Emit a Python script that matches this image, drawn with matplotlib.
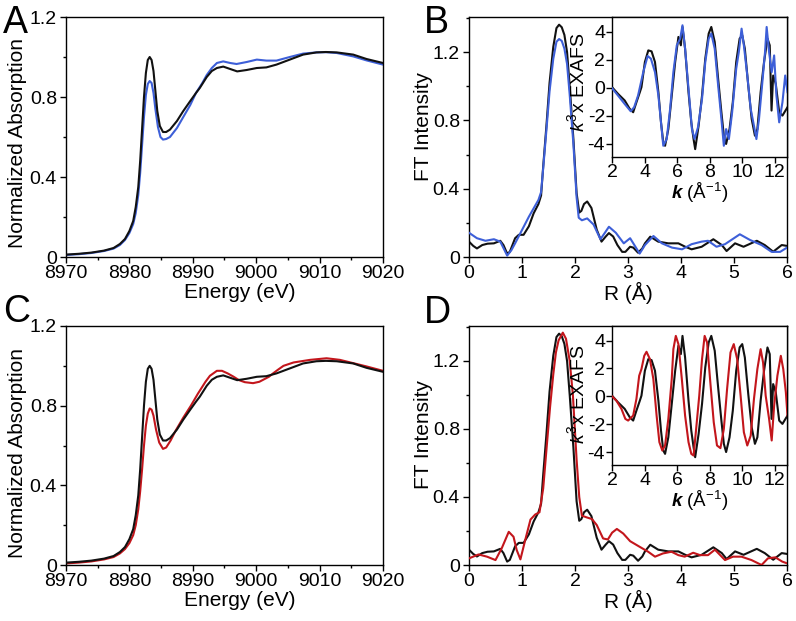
import matplotlib
matplotlib.use('Agg')
import matplotlib.pyplot as plt
from matplotlib.ticker import MultipleLocator, FuncFormatter, FixedLocator

# ---------------- data ----------------
# XANES (panels A, C)
xanes_black_E = [8970, 8972, 8974, 8976, 8977.5, 8978.5, 8979.3, 8980, 8980.6, 8981, 8981.4, 8981.7,
                 8982, 8982.3, 8982.6, 8982.9, 8983.2, 8983.5, 8983.8, 8984.1, 8984.4, 8984.8, 8985.3,
                 8985.8, 8986.4, 8987.5, 8988.5, 8989.6, 8990.5, 8991.1, 8992.2, 8993, 8993.8, 8994.8,
                 8995.9, 8997, 8998.5, 9000.1, 9001.6, 9003.2, 9005.3, 9007.4, 9009.5, 9011, 9012.7,
                 9015.3, 9017.4, 9020]
xanes_black_mu = [0.012, 0.016, 0.022, 0.032, 0.045, 0.065, 0.09, 0.13, 0.18, 0.25, 0.35, 0.48,
                  0.64, 0.80, 0.92, 0.985, 1.0, 0.985, 0.93, 0.83, 0.73, 0.655, 0.625,
                  0.625, 0.637, 0.68, 0.73, 0.78, 0.82, 0.845, 0.90, 0.93, 0.945, 0.952,
                  0.94, 0.928, 0.935, 0.945, 0.948, 0.962, 0.987, 1.012, 1.023, 1.025, 1.023,
                  1.012, 0.99, 0.97]

xanes_blue_E = [8970, 8972, 8974, 8976, 8977.5, 8978.5, 8979.3, 8980, 8980.6, 8981, 8981.4, 8981.7,
                8982, 8982.3, 8982.6, 8982.9, 8983.2, 8983.5, 8983.8, 8984.1, 8984.5, 8984.9, 8985.3,
                8985.8, 8986.4, 8987.5, 8988.5, 8989.6, 8990.5, 8991.5, 8992.2, 8993, 8993.8, 8994.8,
                8995.9, 8996.9, 8998.5, 9000.1, 9001.6, 9003.2, 9005.3, 9007.4, 9009.5, 9011, 9012.7,
                9015.3, 9017.4, 9020]
xanes_blue_mu = [0.010, 0.014, 0.020, 0.030, 0.042, 0.060, 0.085, 0.12, 0.165, 0.22, 0.31, 0.42,
                 0.56, 0.70, 0.81, 0.865, 0.88, 0.87, 0.82, 0.74, 0.65, 0.60, 0.587,
                 0.59, 0.60, 0.645, 0.70, 0.76, 0.82, 0.87, 0.91, 0.945, 0.97, 0.978,
                 0.97, 0.965, 0.975, 0.987, 0.982, 0.982, 1.0, 1.017, 1.023, 1.024, 1.02,
                 1.003, 0.983, 0.962]

xanes_red_E = [8970, 8972, 8974, 8976, 8977.5, 8978.5, 8979.3, 8980, 8980.6, 8981, 8981.4, 8981.7,
               8982, 8982.3, 8982.6, 8982.9, 8983.2, 8983.5, 8983.8, 8984.2, 8984.7, 8985.3, 8985.8,
               8986.5, 8987.3, 8988.5, 8989.7, 8990.8, 8992, 8992.7, 8993.8, 8994.6, 8995.5, 8996.4,
               8997.3, 8998.2, 8999.5, 9000.5, 9001.1, 9002, 9002.7, 9003.5, 9004.3, 9005.9, 9008.5,
               9011.1, 9013.2, 9015.5, 9017.4, 9020]
xanes_red_mu = [0.008, 0.012, 0.018, 0.028, 0.04, 0.058, 0.08, 0.11, 0.15, 0.2, 0.28, 0.37,
                0.48, 0.6, 0.7, 0.76, 0.786, 0.78, 0.75, 0.68, 0.615, 0.583, 0.59,
                0.625, 0.675, 0.74, 0.8, 0.86, 0.92, 0.95, 0.975, 0.975, 0.962, 0.946,
                0.928, 0.918, 0.913, 0.92, 0.93, 0.945, 0.963, 0.982, 1.0, 1.017, 1.03,
                1.038, 1.03, 1.012, 0.997, 0.975]

# Fourier transforms (panels B, D)
ft_black_R = [0.0, 0.08, 0.15, 0.25, 0.35, 0.47, 0.59, 0.65, 0.72, 0.77, 0.87, 0.94, 1.03, 1.13,
              1.22, 1.31, 1.36, 1.40, 1.46, 1.52, 1.59, 1.65, 1.70, 1.75, 1.80, 1.85, 1.90, 1.97,
              2.03, 2.08, 2.12, 2.17, 2.23, 2.31, 2.41, 2.5, 2.58, 2.64, 2.72, 2.8, 2.89, 2.95,
              3.04, 3.1, 3.19, 3.27, 3.32, 3.42, 3.57, 3.76, 3.95, 4.08, 4.2, 4.39, 4.61, 4.77,
              4.86, 5.02, 5.18, 5.43, 5.58, 5.74, 5.9, 6.0]
ft_black_I = [0.09, 0.065, 0.05, 0.07, 0.078, 0.08, 0.095, 0.07, 0.02, 0.03, 0.11, 0.13, 0.13, 0.18,
              0.256, 0.31, 0.36, 0.53, 0.765, 1.02, 1.23, 1.34, 1.36, 1.345, 1.30, 1.20, 1.0, 0.69,
              0.375, 0.26, 0.27, 0.31, 0.325, 0.287, 0.16, 0.09, 0.12, 0.14, 0.12, 0.07, 0.03, 0.03,
              0.06, 0.055, 0.025, 0.05, 0.08, 0.119, 0.09, 0.08, 0.08, 0.06, 0.045, 0.06, 0.104, 0.07,
              0.035, 0.08, 0.06, 0.095, 0.07, 0.031, 0.07, 0.065]

ft_blue_R = [0.0, 0.15, 0.31, 0.47, 0.59, 0.67, 0.72, 0.8, 0.87, 1.0, 1.13, 1.22, 1.31, 1.36, 1.40,
             1.46, 1.52, 1.59, 1.65, 1.70, 1.75, 1.80, 1.85, 1.90, 1.97, 2.03, 2.07, 2.13, 2.23,
             2.35, 2.48, 2.56, 2.64, 2.77, 2.92, 3.04, 3.1, 3.22, 3.32, 3.48, 3.64, 3.83, 4.02,
             4.2, 4.39, 4.51, 4.67, 4.83, 5.11, 5.3, 5.52, 5.71, 5.87, 6.0]
ft_blue_I = [0.142, 0.11, 0.095, 0.104, 0.09, 0.04, 0.008, 0.04, 0.08, 0.158, 0.236, 0.285, 0.334, 0.38, 0.52,
             0.74, 0.97, 1.16, 1.26, 1.276, 1.265, 1.22, 1.13, 0.95, 0.66, 0.35, 0.23, 0.215, 0.226,
             0.19, 0.104, 0.14, 0.177, 0.142, 0.08, 0.11, 0.08, 0.02, 0.07, 0.123, 0.08, 0.055, 0.045,
             0.075, 0.09, 0.095, 0.06, 0.075, 0.133, 0.1, 0.07, 0.03, 0.03, 0.055]

ft_red_R = [0.0, 0.18, 0.34, 0.5, 0.62, 0.75, 0.84, 0.9, 0.97, 1.06, 1.16, 1.25, 1.33, 1.40, 1.47,
            1.53, 1.59, 1.64, 1.69, 1.77, 1.83, 1.90, 1.96, 2.03, 2.08, 2.13, 2.22, 2.32, 2.41,
            2.53, 2.62, 2.70, 2.79, 2.91, 3.04, 3.22, 3.38, 3.51, 3.66, 3.82, 3.95, 4.07, 4.23,
            4.36, 4.51, 4.64, 4.83, 4.98, 5.14, 5.33, 5.52, 5.64, 5.78, 5.91, 6.0]
ft_red_I = [0.039, 0.062, 0.049, 0.029, 0.1, 0.195, 0.166, 0.088, 0.033, 0.146, 0.267, 0.297, 0.31, 0.45, 0.71,
            0.93, 1.12, 1.25, 1.32, 1.366, 1.33, 1.2, 1.0, 0.62, 0.4, 0.29, 0.28, 0.27, 0.235,
            0.156, 0.15, 0.19, 0.212, 0.185, 0.14, 0.107, 0.078, 0.049, 0.068, 0.078, 0.058, 0.049, 0.072,
            0.058, 0.058, 0.09, 0.029, 0.049, 0.049, 0.029, 0.0, 0.039, 0.045, 0.02, 0.01]

# k^3-weighted EXAFS (insets)
exafs_black_k = [2.0, 2.37, 2.78, 3.09, 3.3, 3.5, 3.71, 3.81, 4.02, 4.23, 4.43, 4.64, 4.85, 5.01, 5.15,
                 5.26, 5.46, 5.67, 5.88, 6.08, 6.23, 6.33, 6.49, 6.7, 6.87, 7.01, 7.11, 7.32, 7.53,
                 7.73, 7.94, 8.1, 8.31, 8.52, 8.72, 8.87, 9.01, 9.22, 9.42, 9.63, 9.84, 10.0, 10.16,
                 10.37, 10.58, 10.78, 10.93, 11.13, 11.34, 11.55, 11.69, 11.8, 11.9, 12.06, 12.27,
                 12.47, 12.78]
exafs_black_chi = [0.05, -0.43, -0.9, -1.5, -1.74, -1.03, -0.31, 0.05, 1.84, 2.67, 2.6, 1.84, -0.31, -2.46, -3.89,
                   -4.13, -2.94, -0.55, 1.84, 3.63, 3.03, 4.34, 2.79, -0.31, -2.46, -3.65, -4.37, -2.7, -0.55,
                   2.08, 3.87, 4.34, 3.27, 0.64, -1.74, -3.41, -4.0, -2.94, -1.03, 1.84, 3.51, 3.75, 2.79,
                   0.17, -2.22, -3.41, -2.94, -0.31, 1.84, 3.51, 3.03, -1.62, 0.88, 0.29, -1.74,
                   -1.98, -1.38]

exafs_blue_k = [2.0, 2.37, 2.78, 3.15, 3.36, 3.6, 3.92, 4.19, 4.39, 4.64, 4.85, 5.01, 5.15, 5.36, 5.57,
                5.77, 5.98, 6.19, 6.33, 6.49, 6.7, 6.91, 7.07, 7.28, 7.53, 7.73, 7.94, 8.1, 8.31,
                8.52, 8.72, 8.87, 9.01, 9.18, 9.38, 9.63, 9.79, 9.96, 10.1, 10.31, 10.52, 10.72,
                10.87, 11.03, 11.2, 11.4, 11.5, 11.65, 11.81, 11.96, 12.1, 12.27, 12.47, 12.64, 12.78]
exafs_blue_chi = [-0.02, -0.55, -1.15, -1.67, -1.38, -0.55, 1.12, 2.27, 2.08, 1.12, -0.55, -2.46, -4.13, -3.65, -1.5,
                  1.12, 3.03, 3.51, 4.46, 2.79, -0.07, -2.94, -3.65, -2.82, -0.79, 1.84, 3.51, 3.87, 2.79,
                  0.17, -2.22, -4.13, -2.94, -3.65, -1.74, 1.36, 2.55, 4.22, 3.03, 0.88, -1.5, -2.7,
                  -3.65, -2.22, -0.07, 2.55, 4.34, 2.55, 1.12, 2.31, -0.55, -2.46, -1.03, 0.88, -0.31]

exafs_red_k = [2.0, 2.27, 2.58, 2.82, 2.99, 3.3, 3.5, 3.67, 3.81, 3.98, 4.12, 4.33, 4.54, 4.74, 4.91,
               5.09, 5.26, 5.46, 5.67, 5.77, 5.92, 6.08, 6.29, 6.49, 6.7, 6.87, 7.01, 7.15, 7.36,
               7.53, 7.69, 7.84, 8.04, 8.25, 8.45, 8.66, 8.87, 9.07, 9.28, 9.48, 9.69, 9.9, 10.1,
               10.31, 10.52, 10.72, 10.93, 11.13, 11.28, 11.44, 11.65, 11.81, 11.96, 12.16, 12.37,
               12.52, 12.68, 12.78]
exafs_red_chi = [0.0, -0.31, -0.9, -1.62, -1.74, -1.38, -0.19, 1.48, 1.96, 2.91, 3.2, 2.67, 1.24, -1.38, -3.29,
                 -3.89, -3.53, -1.62, 1.24, 3.39, 4.34, 3.75, 1.24, -1.38, -3.29, -4.13, -4.25, -2.58, 0.05,
                 2.67, 4.34, 3.87, 1.0, -1.86, -3.53, -3.72, -2.34, 0.53, 3.15, 3.75, 2.67, 0.05, -2.58,
                 -3.53, -2.82, -0.19, 1.96, 3.39, 2.43, 0.05, -1.62, -3.17, -0.67, 1.48, 2.91,
                 1.96, 0.29, -1.38]

# ---------------- style ----------------
plt.rcParams['font.family'] = ['Liberation Sans', 'DejaVu Sans']
plt.rcParams['axes.unicode_minus'] = False
plt.rcParams['mathtext.fontset'] = 'custom'
plt.rcParams['mathtext.rm'] = 'Liberation Sans'
plt.rcParams['mathtext.it'] = 'Liberation Sans:italic'
plt.rcParams['mathtext.bf'] = 'Liberation Sans:bold'
has_bfit = True
try:
    plt.rcParams['mathtext.bfit'] = 'Liberation Sans:italic:bold'
except Exception:
    has_bfit = False

BLACK = '#111111'
BLUE = '#3d5fd8'
RED = '#c3161c'
LW = 1.5
TICK_FS = 14
LABEL_FS = 15

W, H = 796, 621
fig = plt.figure(figsize=(W / 100, H / 100), dpi=100)


def fx(px):
    return px / W


def fy(py):
    return 1 - py / H


def add_axes(l, t, r, b):
    return fig.add_axes([fx(l), fy(b), fx(r) - fx(l), (b - t) / H])


fmt = FuncFormatter(lambda v, p: '%g' % round(v, 6))


def style(ax, fs=TICK_FS, pad=2):
    for s in ax.spines.values():
        s.set_linewidth(1.0)
    ax.tick_params(which='both', direction='out', top=False, right=False,
                   labelsize=fs, width=1.0, pad=pad)
    ax.tick_params(which='major', length=4.5)
    ax.tick_params(which='minor', length=2.5)


def xanes_panel(ax, E2, mu2, c2, ylab_y):
    ax.plot(xanes_black_E, xanes_black_mu, color=BLACK, lw=LW, zorder=3)
    ax.plot(E2, mu2, color=c2, lw=LW, zorder=2)
    ax.set_xlim(8970, 9020)
    ax.set_ylim(0, 1.2)
    ax.xaxis.set_major_locator(MultipleLocator(10))
    ax.xaxis.set_minor_locator(MultipleLocator(5))
    ax.yaxis.set_major_locator(MultipleLocator(0.4))
    ax.yaxis.set_minor_locator(MultipleLocator(0.2))
    ax.yaxis.set_major_formatter(fmt)
    style(ax)
    ax.tick_params(axis='x', pad=1.5)
    ax.set_xlabel('Energy (eV)', fontsize=LABEL_FS)
    ax.set_ylabel('Normalized Absorption', fontsize=LABEL_FS)
    ax.xaxis.set_label_coords(0.549, -0.108, transform=ax.transAxes)
    ax.xaxis.label.set_va('top')
    ax.yaxis.set_label_coords(-0.123, ylab_y)


def ft_panel(ax, R2, I2, c2, ylab_y):
    ax.plot(ft_black_R, ft_black_I, color=BLACK, lw=LW, zorder=2)
    ax.plot(R2, I2, color=c2, lw=LW, zorder=3)
    ax.set_xlim(0, 6)
    ax.set_ylim(0, 1.405)
    ax.xaxis.set_major_locator(MultipleLocator(1))
    ax.yaxis.set_major_locator(MultipleLocator(0.4))
    ax.yaxis.set_minor_locator(MultipleLocator(0.2))
    ax.yaxis.set_major_formatter(fmt)
    style(ax)
    ax.tick_params(axis='x', pad=1.5)
    ax.set_xlabel('R (Å)', fontsize=LABEL_FS, labelpad=0)
    ax.set_ylabel('FT Intensity', fontsize=LABEL_FS)
    ax.yaxis.set_label_coords(-0.113, ylab_y)


def inset_panel(ax, k2, chi2, c2, ylab_y):
    ax.plot(exafs_black_k, exafs_black_chi, color=BLACK, lw=LW, zorder=2)
    ax.plot(k2, chi2, color=c2, lw=LW, zorder=3)
    ax.set_xlim(2, 12.75)
    ax.set_ylim(-4.93, 5.05)
    ax.xaxis.set_major_locator(FixedLocator([2, 4, 6, 8, 10, 12]))
    ax.yaxis.set_major_locator(FixedLocator([-4, -2, 0, 2, 4]))
    ax.xaxis.set_major_formatter(fmt)
    ax.yaxis.set_major_formatter(fmt)
    style(ax, fs=TICK_FS, pad=1)
    ax.tick_params(which='major', length=4)
    if has_bfit:
        xl = r'$\mathbfit{k}$ (Å$^{-1}$)'
    else:
        xl = r'$\mathit{k}$ (Å$^{-1}$)'
    ax.set_xlabel(xl, fontsize=13.5, labelpad=0)
    ax.set_ylabel(r'$\mathit{k}^3$x EXAFS', fontsize=14)
    ax.yaxis.set_label_coords(-0.138, ylab_y)


axA = add_axes(66, 17, 383, 257)
xanes_panel(axA, xanes_blue_E, xanes_blue_mu, BLUE, 0.473)
axC = add_axes(66, 326, 383, 565)
xanes_panel(axC, xanes_red_E, xanes_red_mu, RED, 0.47)

axB = add_axes(469, 17, 787, 257)
ft_panel(axB, ft_blue_R, ft_blue_I, BLUE, 0.543)
axD = add_axes(469, 326, 787, 565)
ft_panel(axD, ft_red_R, ft_red_I, RED, 0.544)

inB = add_axes(612, 17, 787, 157)
inset_panel(inB, exafs_blue_k, exafs_blue_chi, BLUE, 0.536)
inD = add_axes(612, 326, 787, 465)
inset_panel(inD, exafs_red_k, exafs_red_chi, RED, 0.51)

for letter, px, py in [('A', 3, 33), ('B', 424, 33), ('C', 3, 322), ('D', 424, 323)]:
    fig.text(fx(px), fy(py), letter, fontsize=27, va='baseline', ha='left')

fig.savefig('out.png', dpi=100)
